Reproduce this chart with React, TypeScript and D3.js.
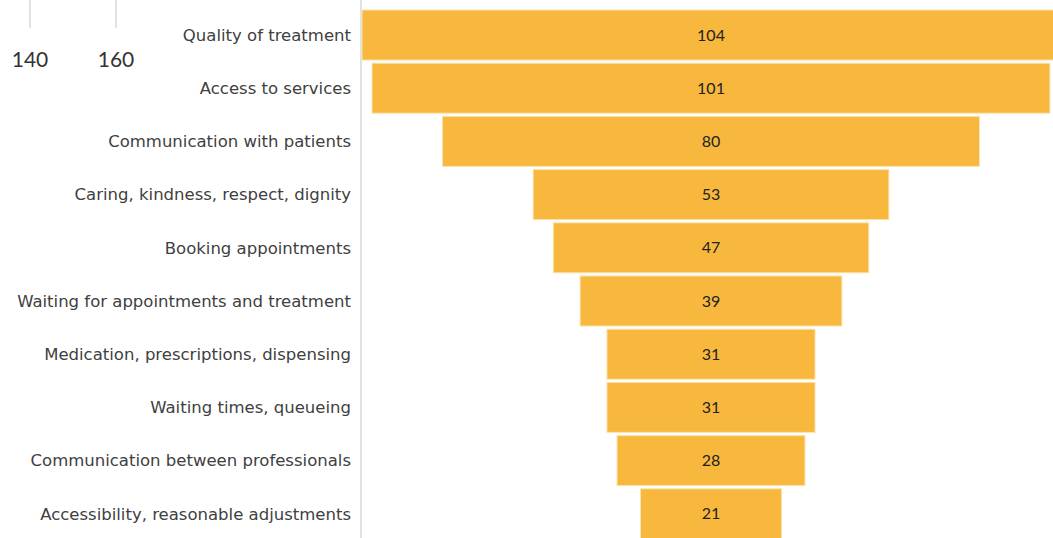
import React from "react";
import * as d3 from "d3";

const categories = [
  "Quality of treatment",
  "Access to services",
  "Communication with patients",
  "Caring, kindness, respect, dignity",
  "Booking appointments",
  "Waiting for appointments and treatment",
  "Medication, prescriptions, dispensing",
  "Waiting times, queueing",
  "Communication between professionals",
  "Accessibility, reasonable adjustments",
];
const values = [104, 101, 80, 53, 47, 39, 31, 31, 28, 21];
const strayTicks = [140, 160];

const W = 1053;
const H = 538;
const FONT = "'Lato', 'Open Sans', sans-serif";
const LABEL_FONT = "'DejaVu Sans', sans-serif";

export default function App() {
  const center = 711;
  const half = d3.scaleLinear().domain([0, 104]).range([0, 349]);
  const y = d3
    .scaleBand<string>()
    .domain(categories)
    .range([8.4, 8.4 + 53.2 * categories.length])
    .paddingInner(0.06)
    .paddingOuter(0.03);
  const stray = d3.scaleLinear().domain([140, 160]).range([30, 116]);

  return (
    <svg
      width={W}
      height={H}
      style={{ position: "absolute", left: 0, top: 0, background: "#fff" }}
      fontFamily={FONT}
    >
      {strayTicks.map((t) => (
        <g key={t}>
          <line x1={stray(t)} x2={stray(t)} y1={0} y2={28} stroke="#d9d9d9" strokeWidth={1.5} />
          <text x={stray(t)} y={67} textAnchor="middle" fontSize={21} fill="#333">
            {t}
          </text>
        </g>
      ))}
      <line x1={361} x2={361} y1={0} y2={H} stroke="#d9d9d9" strokeWidth={1.5} />
      {categories.map((c, i) => {
        const v = values[i];
        const y0 = y(c)!;
        const bw = y.bandwidth();
        return (
          <g key={c}>
            <rect
              x={center - half(v)}
              y={y0}
              width={half(v) * 2}
              height={bw}
              fill="#F8B83E"
              stroke="#fbe2b0"
              strokeWidth={1}
            />
            <text
              x={center}
              y={y0 + bw / 2}
              dy="0.35em"
              textAnchor="middle"
              fontSize={16}
              fill="#222"
            >
              {v}
            </text>
            <text
              x={351}
              y={y0 + bw / 2}
              dy="0.35em"
              textAnchor="end"
              fontSize={16.5}
              fontFamily={LABEL_FONT}
              fill="#404040"
            >
              {c}
            </text>
          </g>
        );
      })}
    </svg>
  );
}
